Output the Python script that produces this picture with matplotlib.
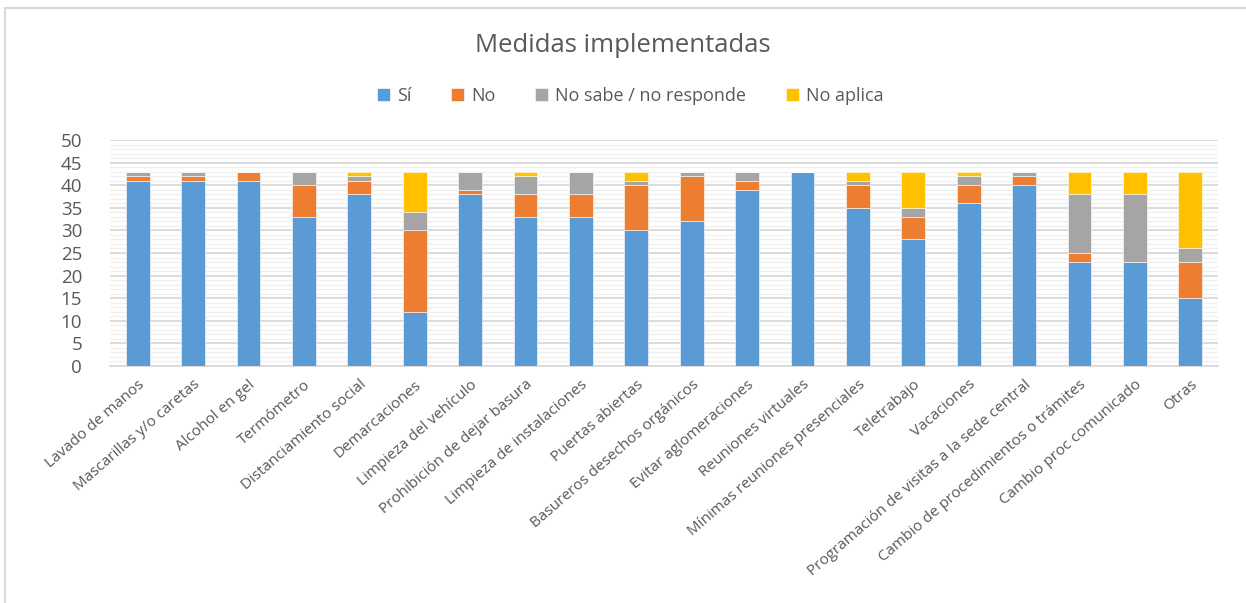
import numpy as np
import matplotlib.pyplot as plt
from matplotlib.patches import Rectangle

categorias = ['Lavado de manos', 'Mascarillas y/o caretas', 'Alcohol en gel', 'Termómetro',
              'Distanciamiento social', 'Demarcaciones', 'Limpieza del vehículo',
              'Prohibición de dejar basura', 'Limpieza de instalaciones', 'Puertas abiertas',
              'Basureros desechos orgánicos', 'Evitar aglomeraciones', 'Reuniones virtuales',
              'Mínimas reuniones presenciales', 'Teletrabajo', 'Vacaciones',
              'Programación de visitas a la sede central', 'Cambio de procedimientos o trámites',
              'Cambio proc comunicado', 'Otras']
si = [41, 41, 41, 33, 38, 12, 38, 33, 33, 30, 32, 39, 43, 35, 28, 36, 40, 23, 23, 15]
no = [1, 1, 2, 7, 3, 18, 1, 5, 5, 10, 10, 2, 0, 5, 5, 4, 2, 2, 0, 8]
ns_nr = [1, 1, 0, 3, 1, 4, 4, 4, 5, 1, 1, 2, 0, 1, 2, 2, 1, 13, 15, 3]
no_aplica = [0, 0, 0, 0, 1, 9, 0, 1, 0, 2, 0, 0, 0, 2, 8, 1, 0, 5, 5, 17]

series = [('Sí', si, '#5B9BD5'), ('No', no, '#ED7D31'),
          ('No sabe / no responde', ns_nr, '#A5A5A5'), ('No aplica', no_aplica, '#FFC000')]

plt.rcParams['font.family'] = ['Open Sans', 'DejaVu Sans']
gris = '#595959'

fig = plt.figure(figsize=(12.46, 6.03), dpi=100)
ax = fig.add_axes([110 / 1246, 1 - 366 / 603, 1108 / 1246, 226 / 603])

x = np.arange(len(categorias))
base = np.zeros(len(categorias))
for nombre, vals, color in series:
    vals = np.array(vals)
    ax.bar(x, vals, 0.43, bottom=base, color=color, label=nombre,
           edgecolor='#ffffff', linewidth=0.4, zorder=3)
    base += vals

ax.set_xlim(-0.5, len(categorias) - 0.5)
ax.set_ylim(0, 50)
ax.set_yticks(np.arange(0, 51, 5))
ax.set_yticks(np.arange(0, 51, 1), minor=True)
ax.grid(axis='y', which='major', color='#D9D9D9', linewidth=1.3, zorder=0)
ax.grid(axis='y', which='minor', color='#F0F0F0', linewidth=1.0, zorder=0)
ax.tick_params(axis='y', which='both', length=0, labelsize=13.5, colors=gris, pad=20)
ax.tick_params(axis='x', length=0, labelsize=11, colors=gris, pad=8)
ax.set_xticks(x)
ax.set_xticklabels(categorias, rotation=41, ha='right', rotation_mode='anchor')
for s in ['top', 'right', 'left']:
    ax.spines[s].set_visible(False)
ax.spines['bottom'].set_color('#D9D9D9')
ax.spines['bottom'].set_linewidth(1.3)

fig.text(0.5, 1 - 45 / 603, 'Medidas implementadas', ha='center', va='center',
         fontsize=18.5, color=gris)
fig.legend(loc='center', bbox_to_anchor=(0.506, 1 - 96 / 603), ncol=4, frameon=False,
           fontsize=13, handlelength=0.7, handleheight=0.7, handletextpad=0.4,
           columnspacing=2.2, labelcolor=gris)

fig.patches.append(Rectangle((5 / 1246, -0.1), 1.2, 1 - 8 / 603 + 0.1, transform=fig.transFigure,
                             fill=False, edgecolor='#D9D9D9', linewidth=1.5))

fig.savefig('out.png', dpi=100)
